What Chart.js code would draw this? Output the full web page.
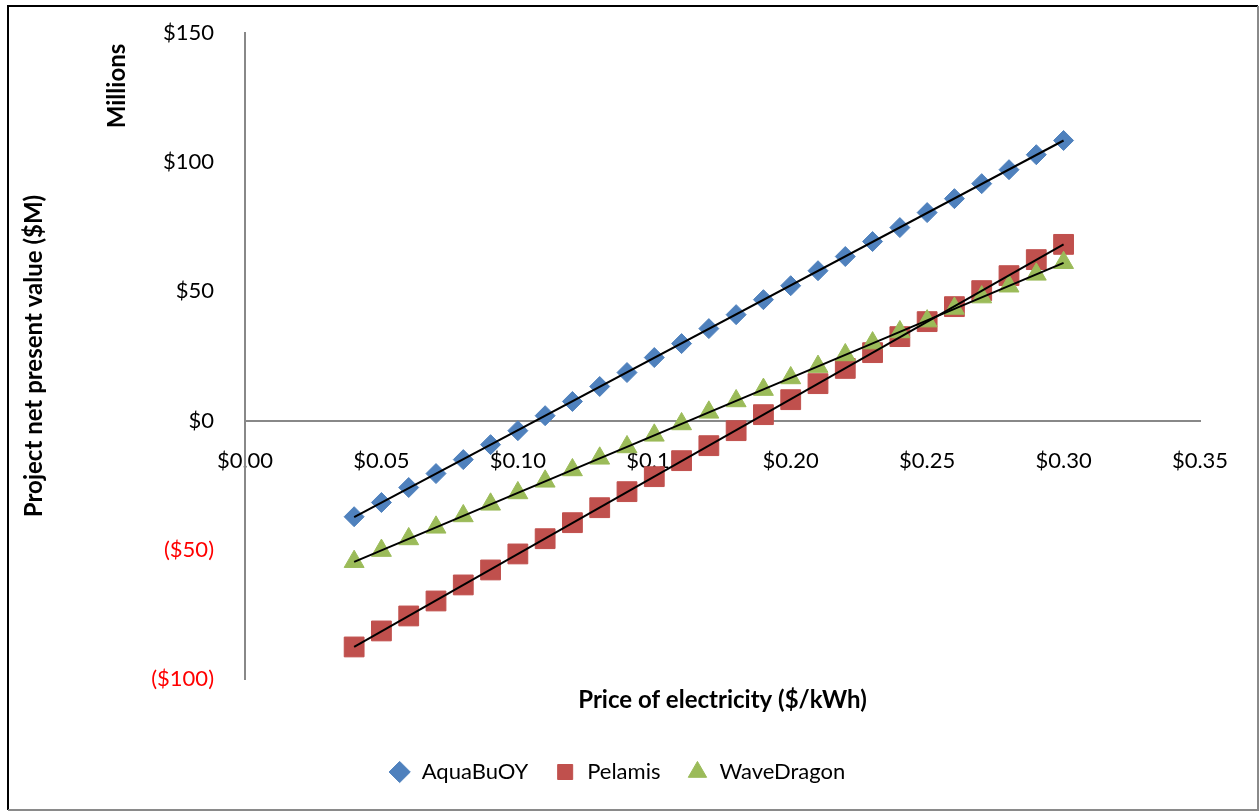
<!DOCTYPE html>
<html>
<head>
<meta charset="utf-8">
<script src="https://cdn.jsdelivr.net/npm/chart.js@4.4.1/dist/chart.umd.min.js"></script>
<style>
  body { margin: 0; background: #fff; }
</style>
</head>
<body>
<canvas id="npvChart" width="1260" height="812"></canvas>
<script>
// price of electricity, $/kWh
const prices = [0.04, 0.05, 0.06, 0.07, 0.08, 0.09, 0.10, 0.11, 0.12, 0.13, 0.14, 0.15, 0.16, 0.17,
    0.18, 0.19, 0.20, 0.21, 0.22, 0.23, 0.24, 0.25, 0.26, 0.27, 0.28, 0.29, 0.30];

// project NPV, $ millions
const aquabuoy = [-37.2, -31.7, -25.9, -20.5, -15.1, -9.3, -3.9, 1.9, 7.4, 13.2, 18.6, 24.4, 29.8, 35.6,
    41.0, 46.8, 52.2, 58.0, 63.5, 69.3, 74.7, 80.5, 85.9, 91.7, 97.1, 102.9, 108.4];
const pelamis = [-87.6, -81.4, -75.6, -69.8, -63.6, -57.8, -51.6, -45.7, -39.5, -33.7, -27.5, -21.7, -15.5, -9.7,
    -3.9, 2.3, 8.1, 14.3, 20.2, 26.3, 32.5, 38.3, 44.1, 50.3, 56.1, 62.3, 68.2];
const wavedragon = [-54.6, -50.3, -45.8, -41.3, -36.9, -32.4, -28.0, -23.5, -19.1, -14.6, -10.2, -5.7, -1.3, 3.2,
    7.6, 12.0, 16.5, 20.9, 25.4, 30.0, 34.3, 38.5, 43.4, 47.8, 52.0, 56.6, 61.1];

const seriesNames = ['AquaBuOY', 'Pelamis', 'WaveDragon'];
const seriesColors = ['#4F81BD', '#C0504D', '#9BBB59'];

const xTicks = { min: 0, max: 0.35, step: 0.05 };
const yTicks = { min: -100, max: 150, step: 50 };

const FONT = 'Lato';

function toPoints(ys) {
    return prices.map((p, i) => ({ x: p, y: ys[i] }));
}

// excel style linear trendline, least squares over the series
function trendline(ys) {
    const n = prices.length;
    let sx = 0, sy = 0, sxx = 0, sxy = 0;
    for (let i = 0; i < n; i++) {
        sx += prices[i]; sy += ys[i];
        sxx += prices[i] * prices[i]; sxy += prices[i] * ys[i];
    }
    const b = (n * sxy - sx * sy) / (n * sxx - sx * sx);
    const a = (sy - b * sx) / n;
    const x0 = prices[0], x1 = prices[n - 1];
    return [{ x: x0, y: a + b * x0 }, { x: x1, y: a + b * x1 }];
}

function fmtMoney(v) {
    const r = Math.round(v);
    return r < 0 ? '($' + Math.abs(r) + ')' : '$' + r;
}

const frame = {
    id: 'frame',
    afterLayout(chart) {
        // legend sits a bit right of the canvas centre in the original
        chart.legend.left += 12;
        chart.legend.right += 12;
    },
    afterDraw(chart) {
        const ctx = chart.ctx;
        ctx.save();
        ctx.lineWidth = 2;
        ctx.strokeStyle = '#000';
        ctx.beginPath();
        ctx.moveTo(8, 810); ctx.lineTo(8, 6); ctx.lineTo(1258, 6);
        ctx.stroke();
        ctx.strokeStyle = '#8a8a8a';
        ctx.beginPath();
        ctx.moveTo(1258, 6); ctx.lineTo(1258, 810); ctx.lineTo(8, 810);
        ctx.stroke();

        // display units label
        ctx.translate(117, 86);
        ctx.rotate(-Math.PI / 2);
        ctx.font = 'bold 24px ' + FONT;
        ctx.fillStyle = '#000';
        ctx.textAlign = 'center';
        ctx.textBaseline = 'middle';
        ctx.fillText('Millions', 0, 0);
        ctx.restore();
    }
};

const markerSets = [
    { data: aquabuoy, style: 'rectRot', radius: 10, order: 3 },
    { data: pelamis, style: 'rect', radius: 14, order: 2 },
    { data: wavedragon, style: 'triangle', radius: 11.5, order: 1 }
];

const datasets = markerSets.map((s, i) => ({
    label: seriesNames[i],
    data: toPoints(s.data),
    pointStyle: s.style,
    pointRadius: s.radius,
    pointHoverRadius: s.radius,
    backgroundColor: seriesColors[i],
    borderColor: seriesColors[i],
    pointBorderWidth: 1,
    showLine: false,
    order: s.order
}));

markerSets.forEach((s, i) => {
    datasets.push({
        label: seriesNames[i] + ' trend',
        data: trendline(s.data),
        showLine: true,
        borderColor: '#000',
        borderWidth: 2,
        pointRadius: 0,
        order: 0
    });
});

new Chart(document.getElementById('npvChart'), {
    type: 'scatter',
    data: { datasets: datasets },
    options: {
        responsive: false,
        animation: false,
        layout: { padding: { left: 10, right: 60, top: 33, bottom: 19 } },
        plugins: {
            tooltip: { enabled: false },
            legend: {
                position: 'bottom',
                labels: {
                    usePointStyle: true,
                    boxHeight: 15,
                    padding: 26,
                    color: '#000',
                    font: { family: FONT, size: 22 },
                    filter: item => item.datasetIndex < 3,
                    sort: (a, b) => a.datasetIndex - b.datasetIndex
                }
            }
        },
        scales: {
            x: {
                type: 'linear',
                position: { y: 0 },
                min: xTicks.min,
                max: xTicks.max,
                grid: { display: false, drawTicks: false },
                border: { display: true, color: '#888', width: 2 },
                ticks: {
                    stepSize: xTicks.step,
                    padding: 27,
                    color: '#000',
                    font: { family: FONT, size: 22 },
                    maxRotation: 0,
                    callback: v => '$' + v.toFixed(2)
                }
            },
            x2: {
                type: 'linear',
                position: 'bottom',
                min: xTicks.min,
                max: xTicks.max,
                grid: { display: false, drawTicks: false },
                border: { display: false },
                ticks: { display: false },
                title: {
                    display: true,
                    text: 'Price of electricity ($/kWh)',
                    color: '#000',
                    font: { family: FONT, size: 24, weight: 'bold' },
                    padding: { top: 6.6, bottom: 20.6 }
                }
            },
            y: {
                type: 'linear',
                position: 'left',
                min: yTicks.min,
                max: yTicks.max,
                afterFit: scale => {
                    scale.width = 235;
                    // big label gap should not push the plot area down
                    scale.paddingTop = 14;
                    scale.paddingBottom = 14;
                },
                grid: { display: false, drawTicks: false },
                border: { display: true, color: '#888', width: 2 },
                ticks: {
                    stepSize: yTicks.step,
                    padding: 31,
                    font: { family: FONT, size: 22 },
                    color: c => (c.tick && c.tick.value < 0) ? '#ff0000' : '#000000',
                    callback: v => fmtMoney(v)
                },
                title: {
                    display: true,
                    text: 'Project net present value ($M)',
                    color: '#000',
                    font: { family: FONT, size: 24, weight: 'bold' },
                    padding: { top: 9.6, bottom: 0 }
                }
            }
        }
    },
    plugins: [frame]
});
</script>
</body>
</html>
